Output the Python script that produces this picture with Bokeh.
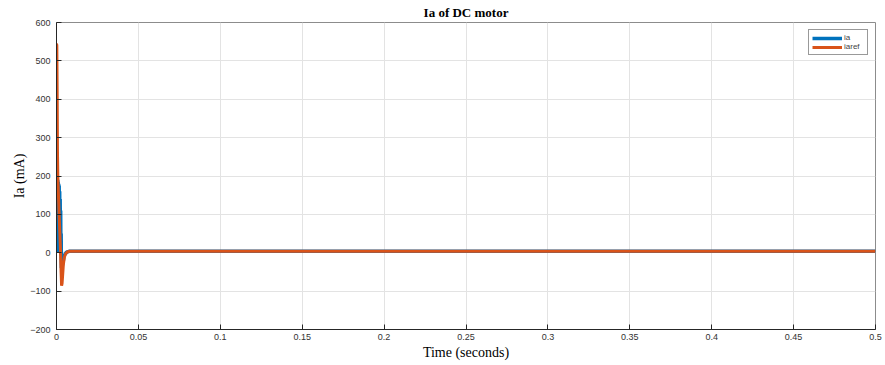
from bokeh.plotting import figure
from bokeh.models import Range1d, FixedTicker, Legend, LegendItem
from bokeh.embed import file_html
from bokeh.resources import INLINE

# Armature current ia (mA) and its reference iaref over time (s)
t_ia = [0, 0.00015, 0.0003, 0.00045, 0.0006, 0.00075, 0.0009, 0.00105, 0.0012,
        0.00135, 0.0015, 0.00165, 0.0018, 0.00195, 0.0021, 0.00225, 0.0024,
        0.00255, 0.0027, 0.00285, 0.003, 0.0032, 0.0035, 0.004, 0.0045, 0.005,
        0.006, 0.007, 0.008, 0.5]
ia = [0, 70, 0, 130, 5, 190, 20, 185, 40,
      180, 30, 175, 20, 160, 10, 140, 0,
      110, 0, 50, -40, -40, -35, -25, -12, -5,
      1, 3, 4, 4]

t_iaref = [0, 0.0002, 0.0004, 0.0006, 0.0008, 0.0012, 0.0016, 0.002, 0.0024,
           0.0028, 0.0031, 0.0034, 0.0038, 0.0042, 0.0048, 0.0055, 0.0065, 0.008, 0.5]
iaref = [545, 540, 420, 260, 200, 150, 100, 55, 10,
         -50, -86, -80, -55, -30, -12, -3, 2, 4, 4]

x_ticks = [0, 0.05, 0.1, 0.15, 0.2, 0.25, 0.3, 0.35, 0.4, 0.45, 0.5]
y_ticks = [-200, -100, 0, 100, 200, 300, 400, 500, 600]

p = figure(width=885, height=365, output_backend="svg", toolbar_location=None,
           x_range=Range1d(0, 0.5), y_range=Range1d(-200, 600),
           min_border_left=56, min_border_right=10, min_border_top=21, min_border_bottom=36,
           title="Ia of DC motor")

p.title.align = "center"
p.title.text_font = "Liberation Serif"
p.title.text_font_size = "13px"
p.title.text_color = "#000000"
p.title.standoff = 5

l1 = p.line(t_ia, ia, line_color="#0072BD", line_width=3.5)
l2 = p.line(t_iaref, iaref, line_color="#D95319", line_width=3)

p.xaxis.ticker = FixedTicker(ticks=x_ticks)
p.yaxis.ticker = FixedTicker(ticks=y_ticks)
p.xaxis.major_label_overrides = {0: "0", 0.5: "0.5"}
for ax in (p.xaxis, p.yaxis):
    ax.major_tick_in = 5
    ax.major_tick_out = 0
    ax.minor_tick_in = 0
    ax.minor_tick_out = 0
    ax.axis_line_color = "#262626"
    ax.major_tick_line_color = "#262626"
    ax.major_label_text_font = "Liberation Sans"
    ax.major_label_text_font_size = "9px"
    ax.major_label_text_color = "#333333"
    ax.axis_label_text_font = "Liberation Serif"
    ax.axis_label_text_font_size = "14px"
    ax.axis_label_text_font_style = "normal"
    ax.axis_label_text_color = "#000000"
p.xaxis.major_label_standoff = 4
p.yaxis.major_label_standoff = 6
p.xaxis.axis_label = "Time (seconds)"
p.yaxis.axis_label = "Ia (mA)"
p.xaxis.axis_label_standoff = 2
p.yaxis.axis_label_standoff = 0

p.xgrid.grid_line_color = "#e3e3e3"
p.ygrid.grid_line_color = "#e3e3e3"
p.outline_line_color = "#8c8c8c"
p.background_fill_color = "white"

legend = Legend(items=[LegendItem(label="ia", renderers=[l1]),
                       LegendItem(label="iaref", renderers=[l2])],
                location="top_right")
legend.label_text_font = "Liberation Sans"
legend.label_text_font_size = "8px"
legend.label_height = 8
legend.glyph_height = 8
legend.glyph_width = 30
legend.spacing = 0
legend.padding = 3
legend.margin = 7
legend.label_standoff = 2
legend.border_line_color = "#333333"
legend.border_line_width = 1
p.add_layout(legend)

open("out.html", "w").write(file_html(p, INLINE))
